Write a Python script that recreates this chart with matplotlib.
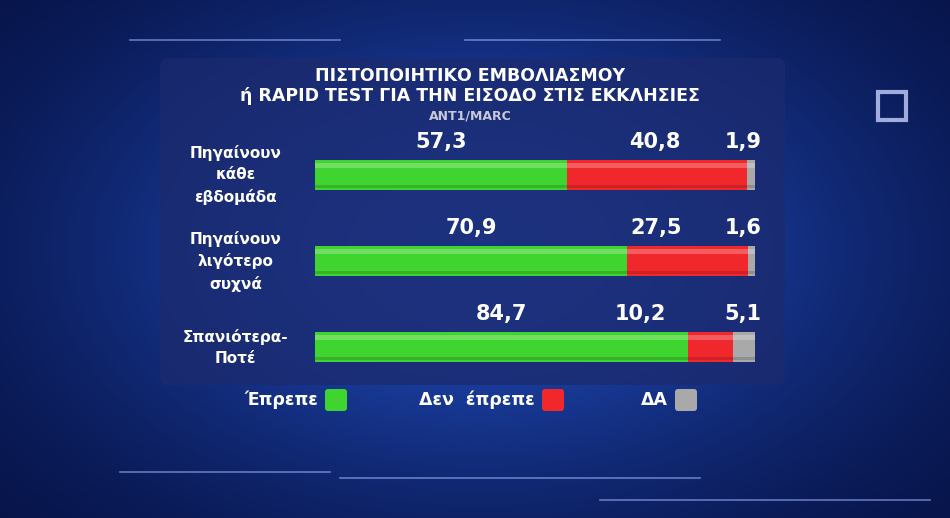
import matplotlib.pyplot as plt
import numpy as np
from matplotlib.patches import FancyBboxPatch, Rectangle

W, H = 950, 518

categories = ["Πηγαίνουν\nκάθε\nεβδομάδα", "Πηγαίνουν\nλιγότερο\nσυχνά", "Σπανιότερα-\nΠοτέ"]
yes_vals = [57.3, 70.9, 84.7]
no_vals = [40.8, 27.5, 10.2]
na_vals = [1.9, 1.6, 5.1]
legend_labels = ["Έπρεπε", "Δεν  έπρεπε", "ΔΑ"]

GREEN, RED, GRAY = "#3fd42f", "#f0282c", "#a9a9a9"

fig = plt.figure(figsize=(W / 100, H / 100), dpi=100)

# background
bg = fig.add_axes([0, 0, 1, 1])
bg.set_xlim(0, W)
bg.set_ylim(H, 0)
bg.axis("off")
yy, xx = np.mgrid[0:H, 0:W]
glow = np.exp(-(((xx - 480) / 420.0) ** 2 + ((yy - 250) / 260.0) ** 2))
img = np.zeros((H, W, 3))
img[..., 0] = 0.02 + 0.10 * glow
img[..., 1] = 0.06 + 0.22 * glow
img[..., 2] = 0.25 + 0.45 * glow
bg.imshow(img, extent=(0, W, H, 0), aspect="auto", zorder=0)
for x0, x1, y in [(130, 340, 40), (465, 720, 40), (120, 330, 472), (340, 700, 478), (600, 930, 500)]:
    bg.plot([x0, x1], [y, y], color="#9fb4ff", lw=1.2, alpha=0.6, zorder=1)
bg.add_patch(Rectangle((878, 92), 28, 28, fill=False, ec="#c8d0ff", lw=3, alpha=0.8))
bg.add_patch(FancyBboxPatch((160, 58), 625, 327, boxstyle="round,pad=0,rounding_size=8",
                            fc="#1c2a6e", ec="none", alpha=0.75, zorder=1))

# title
bg.text(470, 76, "ΠΙΣΤΟΠΟΙΗΤΙΚΟ ΕΜΒΟΛΙΑΣΜΟΥ", color="white", fontsize=12.5,
        fontweight="bold", ha="center", va="center", zorder=5)
bg.text(470, 96, "ή RAPID TEST ΓΙΑ ΤΗΝ ΕΙΣΟΔΟ ΣΤΙΣ ΕΚΚΛΗΣΙΕΣ", color="white", fontsize=12.5,
        fontweight="bold", ha="center", va="center", zorder=5)
bg.text(470, 116, "ANT1/MARC", color="#c8c8d8", fontsize=9, fontweight="bold",
        ha="center", va="center", zorder=5)

# bars
ax = fig.add_axes([315 / W, 1 - 390 / H, 440 / W, 258 / H])
ax.set_xlim(0, 100)
ax.set_ylim(2.5, -0.5)
ax.axis("off")
ypos = np.arange(len(categories))
bh = 0.35
yes = np.array(yes_vals)
no = np.array(no_vals)
na = np.array(na_vals)
for vals, left, c in [(yes, 0, GREEN), (no, yes, RED), (na, yes + no, GRAY)]:
    ax.barh(ypos, vals, left=left, height=bh, color=c, lw=0)
    ax.barh(ypos - bh * 0.32, vals, left=left, height=bh * 0.18, color="white", alpha=0.25, lw=0)
    ax.barh(ypos + bh * 0.38, vals, left=left, height=bh * 0.12, color="black", alpha=0.15, lw=0)

for i in range(len(categories)):
    ax.text(yes[i] / 2, i - 0.27, f"{yes[i]:.1f}".replace(".", ","), color="white",
            fontsize=15, fontweight="bold", ha="center", va="bottom")
    ax.text(yes[i] + no[i] - 15, i - 0.27, f"{no[i]:.1f}".replace(".", ","), color="white",
            fontsize=15, fontweight="bold", ha="right", va="bottom")
    ax.text(101.5, i - 0.27, f"{na[i]:.1f}".replace(".", ","), color="white",
            fontsize=15, fontweight="bold", ha="right", va="bottom")
    ax.text(-18, i, categories[i], color="white", fontsize=11, fontweight="bold",
            ha="center", va="center", linespacing=1.5)

# legend
for label, c, xr in zip(legend_labels, [GREEN, RED, GRAY], [318, 535, 668]):
    bg.text(xr, 400, label, color="white", fontsize=12.5, fontweight="bold",
            ha="right", va="center", zorder=5)
    bg.add_patch(FancyBboxPatch((xr + 7, 389), 22, 22, boxstyle="round,pad=0,rounding_size=3",
                                fc=c, ec="none", zorder=5))

fig.savefig("out.png", dpi=100)
